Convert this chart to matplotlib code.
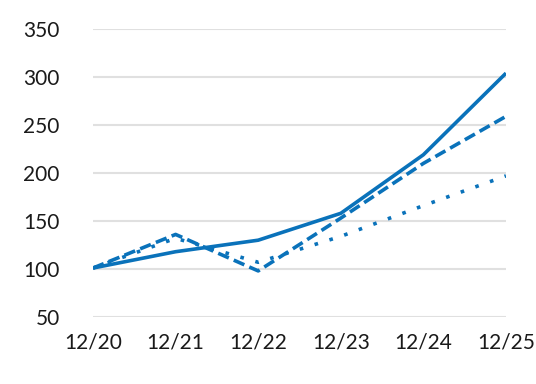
import matplotlib.pyplot as plt

# Data
dates = ["12/20", "12/21", "12/22", "12/23", "12/24", "12/25"]
solid_vals = [101, 118, 130, 158, 219, 304]
dashed_vals = [101, 136, 98, 153, 210, 259]
dotted_vals = [101, 132, 107, 134, 166, 197]
y_ticks = [50, 100, 150, 200, 250, 300, 350]

color = "#0A72BA"

plt.rcParams["font.family"] = ["Lato", "DejaVu Sans"]

fig = plt.figure(figsize=(5.36, 3.84), dpi=100)
ax = fig.add_axes([0.1735, 0.1745, 0.7705, 0.75])

x = list(range(len(dates)))
ax.plot(x, solid_vals, color=color, lw=2.6, solid_capstyle="butt")
ax.plot(x, dashed_vals, color=color, lw=2.6, linestyle=(0, (3.2, 1.5)))
ax.plot(x, dotted_vals, color=color, lw=2.6, linestyle=(0, (1, 3.3)))

ax.set_xlim(0, len(dates) - 1)
ax.set_ylim(50, 350)
ax.set_xticks(x)
ax.set_xticklabels(dates)
ax.set_yticks(y_ticks)

ax.grid(axis="y", color="#e0e0e0", lw=1.5)
ax.set_axisbelow(True)
for s in ax.spines.values():
    s.set_visible(False)
ax.tick_params(axis="both", length=0, labelsize=15, colors="#1a1a1a")
ax.tick_params(axis="y", pad=24)
ax.tick_params(axis="x", pad=11)

fig.savefig("out.png", dpi=100)
